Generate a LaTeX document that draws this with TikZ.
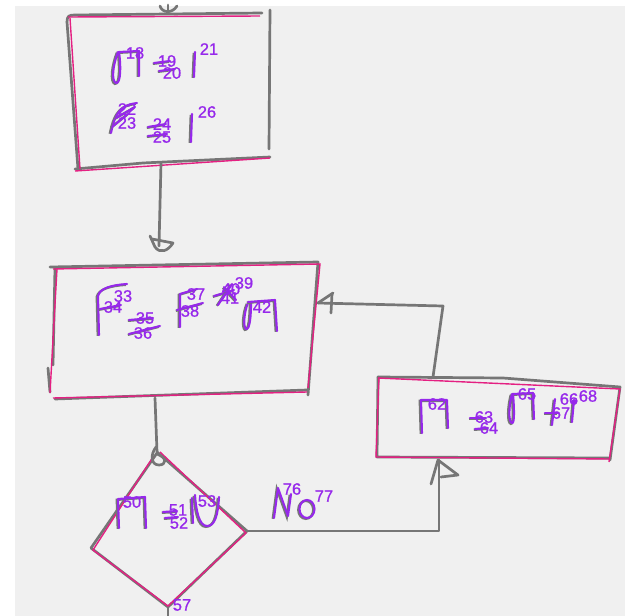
\documentclass[tikz,border=0pt]{standalone}
\usepackage{fontspec}
\setmainfont{Liberation Sans}
\newfontfamily\numfont[FakeBold=0.9]{Liberation Sans}
\definecolor{skgray}{RGB}{118,118,118}
\definecolor{fitpink}{RGB}{228,32,130}
\definecolor{glyphpurple}{RGB}{150,40,235}
\definecolor{bggray}{RGB}{240,240,240}
\tikzset{
  sk/.style={draw=skgray, line width=2.7pt, line cap=round, line join=round},
  fitline/.style={draw=fitpink, line width=1.4pt},
  glyph/.style={draw=glyphpurple, line width=2.1pt, line cap=round, line join=round,
    preaction={draw=skgray, line width=2.4pt, transform canvas={shift={(-1.2pt,-0.8pt)}}}},
  num/.style={text=glyphpurple, font=\numfont\fontsize{16.5}{16.5}\selectfont, inner sep=0pt},
}
\begin{document}
\begin{tikzpicture}[x=1pt,y=-1pt]
\useasboundingbox (0,0) rectangle (625,616);
\fill[white] (0,0) rectangle (625,616);
\fill[bggray] (15,6) rectangle (625,616);

% ---------- named points ----------
\coordinate (topin) at (168,5);
\coordinate (topinend) at (168,12);
\coordinate (b1bot) at (161,163);
\coordinate (b2top) at (159,246);
\coordinate (b2bot) at (155,398);
\coordinate (dtop) at (157,452);
\coordinate (dright) at (247,531);
\coordinate (dbot) at (168,607);
\coordinate (dleft) at (91,548);
\coordinate (dout) at (168,616);
\coordinate (turn1) at (439,531);
\coordinate (b3bot) at (439,460);
\coordinate (b3top) at (433,377);
\coordinate (turn2) at (443,306);
\coordinate (b2right) at (318,303);

% ---------- top box ----------
\draw[sk] (67,22) .. controls (67,16) and (69,15) .. (75,15) -- (262,13);
\draw[sk] (67,22) -- (78,169);
\draw[sk] (270,10) -- (269,149);
\draw[sk] (75,169) -- (143,163) -- (270,157);
\draw[fitline] (68,17) -- (260,16);
\draw[fitline] (70,18) -- (80,169);
\draw[fitline] (75,171) -- (270,158);
% incoming arrow head at top
\draw[sk] (topin) -- (topinend);
\draw[sk] (160,6) .. controls (162,13) and (172,14) .. (177,6);

% ---------- middle box ----------
\draw[sk] (50,267) -- (318,262) -- (308,395);
\draw[sk] (55,268) -- (53,365);
\draw[sk] (48,368) -- (50,392);
\draw[sk] (55,399) -- (307,390);
\draw[fitline] (53,269) -- (320,264) -- (308,388);
\draw[fitline] (57,269) -- (50,393);
\draw[fitline] (53,398) -- (307,392);

% ---------- right box ----------
\draw[sk] (378,377) -- (503,378) -- (620,387) -- (610,460);
\draw[sk] (378,377) -- (377,457) -- (610,458);
\draw[fitline] (378,378) -- (620,389) -- (609,462);
\draw[fitline] (379,377) -- (376,457) -- (610,459);

% ---------- diamond ----------
\draw[sk] (157,453) -- (dleft) -- (dbot) -- (dright) -- (157,452);
\draw[sk] (dbot) -- (dout);
\draw[fitline] (153,457) -- (93,550) -- (168,606) -- (246,533) -- (160,452);

% ---------- connectors ----------
% top box -> middle box
\draw[sk] (b1bot) -- (b2top);
\draw[sk] (150,236) -- (155,247) .. controls (160,254) and (168,251) .. (173,243) -- (152,239);
% middle box -> diamond
\draw[sk] (b2bot) -- (dtop);
\draw[sk] (156,447) .. controls (150,455) and (151,465) .. (159,465) .. controls (166,465) and (168,458) .. (157,454);
% diamond -> right box
\draw[sk] (dright) -- (turn1) -- (b3bot);
\draw[sk] (431,484) -- (438,460) -- (458,475) -- (441,477);
% right box -> middle box
\draw[sk] (b3top) -- (turn2) -- (b2right);
\draw[sk] (333,293) -- (b2right);
\draw[sk] (332,294) -- (331,313);

% ---------- glyph strokes ----------
% top box
\draw[glyph] (118,52) .. controls (113,65) and (111,81) .. (116,83) .. controls (121,84) and (121,65) .. (119,52) -- (139,51) -- (139,76);
\draw[glyph] (154,63) -- (170,61);
\draw[glyph] (159,71) -- (175,69);
\draw[glyph] (195,52) -- (194,77);
\draw[glyph] (137,103) .. controls (124,105) and (116,108) .. (111,133);
\draw[glyph] (116,118) -- (135,107);
\draw[glyph] (112,127) -- (128,114);
\draw[glyph] (148,127) -- (166,124);
\draw[glyph] (148,136) -- (167,134);
\draw[glyph] (192,114) -- (191,142);
% middle box
\draw[glyph] (99,335) -- (98,296) .. controls (100,288) and (112,285) .. (127,284);
\draw[glyph] (100,309) -- (121,305);
\draw[glyph] (129,320) -- (153,318);
\draw[glyph] (129,334) -- (160,326);
\draw[glyph] (180,327) -- (180,294) -- (197,289);
\draw[glyph] (177,310) -- (203,303);
\draw[glyph] (214,296) -- (234,290);
\draw[glyph] (218,305) -- (232,284);
\draw[glyph] (224,287) -- (236,300);
\draw[glyph] (248,303) .. controls (244,312) and (243,327) .. (246,329) .. controls (250,330) and (251,315) .. (251,303);
\draw[glyph] (248,302) -- (275,300) -- (277,331);
% right box
\draw[glyph] (422,433) -- (421,400) -- (447,400) -- (448,428);
\draw[glyph] (470,418) -- (486,418);
\draw[glyph] (475,429) -- (488,428);
\draw[glyph] (512,394) .. controls (509,405) and (508,422) .. (512,423) .. controls (515,424) and (514,405) .. (513,394) -- (533,393) -- (534,419);
\draw[glyph] (555,399) -- (552,425);
\draw[glyph] (545,413) -- (558,413);
\draw[glyph] (574,400) -- (572,422);
\fill[glyphpurple] (574,402) circle (2.6);
% diamond
\draw[glyph] (119,528) -- (118,499) -- (145,497) -- (146,528);
\draw[glyph] (163,512) -- (177,511);
\draw[glyph] (165,518) -- (178,517);
\draw[glyph] (192,498) -- (193,523);
\draw[glyph] (195,495) .. controls (196,510) and (199,526) .. (207,526) .. controls (215,526) and (218,515) .. (219,497);
% No
\draw[glyph] (274,518) -- (278,488) -- (288,516) -- (291,494);
\draw[glyph] (307,509) ellipse (7.5 and 9);

% ---------- stroke numbers ----------
\node[num] (n18) at (135,53) {18};
\node[num] (n19) at (167,61) {19};
\node[num] (n20) at (172,73) {20};
\node[num] (n21) at (209,49) {21};
\node[num] (n22) at (127,109) {22};
\node[num] (n23) at (127,123) {23};
\node[num] (n24) at (162,124) {24};
\node[num] (n25) at (162,137) {25};
\node[num] (n26) at (207,112) {26};
\node[num] (n33) at (123,296) {33};
\node[num] (n34) at (113,307) {34};
\node[num] (n35) at (145,318) {35};
\node[num] (n36) at (143,333) {36};
\node[num] (n37) at (196,294) {37};
\node[num] (n38) at (190,311) {38};
\node[num] (n39) at (244,283) {39};
\node[num] (n40) at (231,289) {40};
\node[num] (n41) at (230,298) {41};
\node[num] (n42) at (262,307) {42};
\node[num] (n62) at (437,404) {62};
\node[num] (n63) at (484,417) {63};
\node[num] (n64) at (489,428) {64};
\node[num] (n65) at (527,394) {65};
\node[num] (n66) at (569,399) {66};
\node[num] (n67) at (561,413) {67};
\node[num] (n68) at (588,396) {68};
\node[num] (n50) at (132,502) {50};
\node[num] (n51) at (178,510) {51};
\node[num] (n52) at (179,523) {52};
\node[num] (n53) at (207,501) {53};
\node[num] (n57) at (182,605) {57};
\node[num] (n76) at (292,489) {76};
\node[num] (n77) at (324,496) {77};
\end{tikzpicture}
\end{document}
